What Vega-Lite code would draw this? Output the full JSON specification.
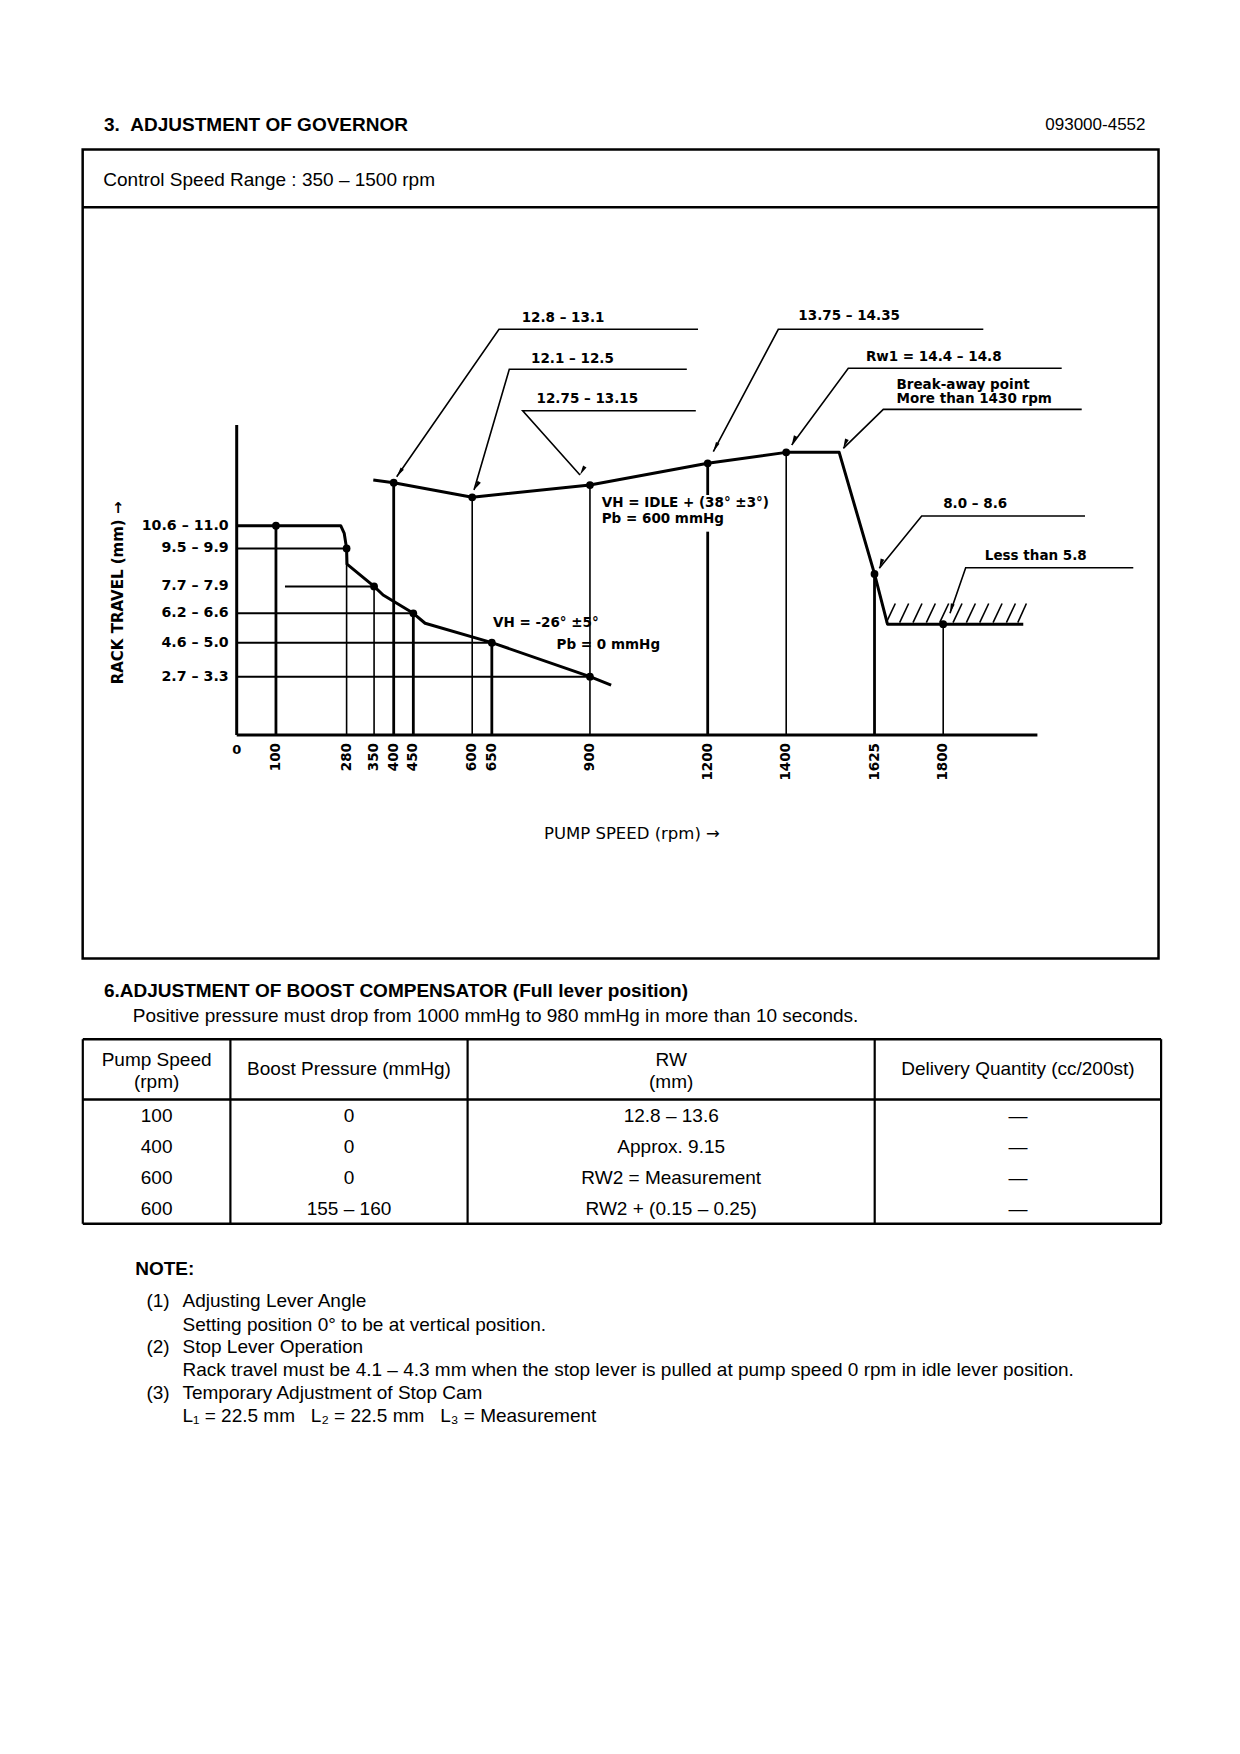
{
  "$schema": "https://vega.github.io/schema/vega-lite/v6.json",
  "width": 1240,
  "height": 1754,
  "autosize": {"type": "fit", "contains": "padding"},
  "padding": 0,
  "background": "#ffffff",
  "config": {"view": {"stroke": null}},
  "datasets": {
    "docBox": [{"x": 14.0, "x2": 196.2, "y": 25.3, "y2": 162.3}],
    "docRules": [{"x": 14.0, "x2": 196.2, "y": 35.1}],
    "docBold": [
      {"x": 17.6, "y": 21.1, "text": "3.\u00a0\u00a0ADJUSTMENT OF GOVERNOR"},
      {"x": 17.6, "y": 167.8, "text": "6.ADJUSTMENT OF BOOST COMPENSATOR (Full lever position)"},
      {"x": 22.9, "y": 214.8, "text": "NOTE:"}
    ],
    "docText": [
      {"x": 17.5, "y": 30.4, "text": "Control Speed Range : 350 – 1500 rpm"},
      {"x": 22.5, "y": 172.0, "text": "Positive pressure must drop from 1000 mmHg to 980 mmHg in more than 10 seconds."},
      {"x": 24.8, "y": 220.3, "text": "(1)"},
      {"x": 30.9, "y": 220.3, "text": "Adjusting Lever Angle"},
      {"x": 30.9, "y": 224.3, "text": "Setting position 0° to be at vertical position."},
      {"x": 24.8, "y": 228.1, "text": "(2)"},
      {"x": 30.9, "y": 228.1, "text": "Stop Lever Operation"},
      {"x": 30.9, "y": 232.0, "text": "Rack travel must be 4.1 – 4.3 mm when the stop lever is pulled at pump speed 0 rpm in idle lever position."},
      {"x": 24.8, "y": 235.8, "text": "(3)"},
      {"x": 30.9, "y": 235.8, "text": "Temporary Adjustment of Stop Cam"},
      {"x": 30.9, "y": 239.8, "text": "L₁ = 22.5 mm\u00a0\u00a0\u00a0L₂ = 22.5 mm\u00a0\u00a0\u00a0L₃ = Measurement"}
    ],
    "docRight": [{"x": 194.0, "y": 21.1, "text": "093000-4552"}],
    "tableHeadOne": [
      {"c": 2, "r": 0, "text": "Boost Pressure (mmHg)"},
      {"c": 4, "r": 0, "text": "Delivery Quantity (cc/200st)"}
    ],
    "tableHeadTwo": [
      {"c": 1, "r": 0, "text": "Pump Speed\n(rpm)"},
      {"c": 3, "r": 0, "text": "RW\n(mm)"}
    ],
    "tableCells": [
      {"c": 1, "r": 1, "text": "100"},
      {"c": 2, "r": 1, "text": "0"},
      {"c": 3, "r": 1, "text": "12.8 – 13.6"},
      {"c": 4, "r": 1, "text": "—"},
      {"c": 1, "r": 2, "text": "400"},
      {"c": 2, "r": 2, "text": "0"},
      {"c": 3, "r": 2, "text": "Approx. 9.15"},
      {"c": 4, "r": 2, "text": "—"},
      {"c": 1, "r": 3, "text": "600"},
      {"c": 2, "r": 3, "text": "0"},
      {"c": 3, "r": 3, "text": "RW2 = Measurement"},
      {"c": 4, "r": 3, "text": "—"},
      {"c": 1, "r": 4, "text": "600"},
      {"c": 2, "r": 4, "text": "155 – 160"},
      {"c": 3, "r": 4, "text": "RW2 + (0.15 – 0.25)"},
      {"c": 4, "r": 4, "text": "—"}
    ],
    "tableHLines": [
      {"c": 0.5, "c2": 4.5, "r": -0.5},
      {"c": 0.5, "c2": 4.5, "r": 0.5},
      {"c": 0.5, "c2": 4.5, "r": 4.5}
    ],
    "tableVLines": [
      {"c": 0.5, "r": -0.5, "r2": 4.5},
      {"c": 1.5, "r": -0.5, "r2": 4.5},
      {"c": 2.5, "r": -0.5, "r2": 4.5},
      {"c": 3.5, "r": -0.5, "r2": 4.5},
      {"c": 4.5, "r": -0.5, "r2": 4.5}
    ],
    "chartAxes": [
      {"rpm": 0, "mm": 0, "rpm2": 0, "mm2": 16.15},
      {"rpm": 0, "mm": 0, "rpm2": 2040, "mm2": 0}
    ],
    "hRefs": [
      {"rpm": 0, "rpm2": 280, "mm": 9.72},
      {"rpm": 123, "rpm2": 350, "mm": 7.74},
      {"rpm": 0, "rpm2": 450, "mm": 6.34},
      {"rpm": 0, "rpm2": 650, "mm": 4.81},
      {"rpm": 0, "rpm2": 900, "mm": 3.04}
    ],
    "vRefsHeavy": [
      {"rpm": 100, "lo": 0, "hi": 10.9},
      {"rpm": 400, "lo": 0, "hi": 13.14},
      {"rpm": 450, "lo": 0, "hi": 6.34},
      {"rpm": 650, "lo": 0, "hi": 4.81},
      {"rpm": 1200, "lo": 0, "hi": 10.59},
      {"rpm": 1200, "lo": 12.5, "hi": 14.15},
      {"rpm": 1625, "lo": 0, "hi": 8.39}
    ],
    "vRefsLight": [
      {"rpm": 280, "lo": 0, "hi": 9.72},
      {"rpm": 350, "lo": 0, "hi": 7.74},
      {"rpm": 600, "lo": 0, "hi": 12.38},
      {"rpm": 900, "lo": 0, "hi": 13.02},
      {"rpm": 1400, "lo": 0, "hi": 14.72},
      {"rpm": 1800, "lo": 0, "hi": 5.77}
    ],
    "hatch": [
      {"rpm": 1655, "mm": 5.85, "rpm2": 1678, "mm2": 6.85},
      {"rpm": 1689, "mm": 5.85, "rpm2": 1712, "mm2": 6.85},
      {"rpm": 1723, "mm": 5.85, "rpm2": 1746, "mm2": 6.85},
      {"rpm": 1757, "mm": 5.85, "rpm2": 1780, "mm2": 6.85},
      {"rpm": 1791, "mm": 5.85, "rpm2": 1814, "mm2": 6.85},
      {"rpm": 1825, "mm": 5.85, "rpm2": 1848, "mm2": 6.85},
      {"rpm": 1859, "mm": 5.85, "rpm2": 1882, "mm2": 6.85},
      {"rpm": 1893, "mm": 5.85, "rpm2": 1916, "mm2": 6.85},
      {"rpm": 1927, "mm": 5.85, "rpm2": 1950, "mm2": 6.85},
      {"rpm": 1961, "mm": 5.85, "rpm2": 1984, "mm2": 6.85},
      {"rpm": 1990, "mm": 5.85, "rpm2": 2012, "mm2": 6.85}
    ],
    "curves": [
      {"curve": "Pb 0", "i": 1, "rpm": 0, "mm": 10.9},
      {"curve": "Pb 0", "i": 2, "rpm": 265, "mm": 10.9},
      {"curve": "Pb 0", "i": 3, "rpm": 274, "mm": 10.5},
      {"curve": "Pb 0", "i": 4, "rpm": 280, "mm": 9.72},
      {"curve": "Pb 0", "i": 5, "rpm": 281, "mm": 8.9},
      {"curve": "Pb 0", "i": 6, "rpm": 350, "mm": 7.74},
      {"curve": "Pb 0", "i": 7, "rpm": 373, "mm": 7.29},
      {"curve": "Pb 0", "i": 8, "rpm": 450, "mm": 6.34},
      {"curve": "Pb 0", "i": 9, "rpm": 480, "mm": 5.82},
      {"curve": "Pb 0", "i": 10, "rpm": 650, "mm": 4.81},
      {"curve": "Pb 0", "i": 11, "rpm": 900, "mm": 3.04},
      {"curve": "Pb 0", "i": 12, "rpm": 954, "mm": 2.6},
      {"curve": "Pb 600", "i": 1, "rpm": 348, "mm": 13.28},
      {"curve": "Pb 600", "i": 2, "rpm": 400, "mm": 13.14},
      {"curve": "Pb 600", "i": 3, "rpm": 600, "mm": 12.38},
      {"curve": "Pb 600", "i": 4, "rpm": 900, "mm": 13.02},
      {"curve": "Pb 600", "i": 5, "rpm": 1200, "mm": 14.15},
      {"curve": "Pb 600", "i": 6, "rpm": 1400, "mm": 14.72},
      {"curve": "Pb 600", "i": 7, "rpm": 1535, "mm": 14.72},
      {"curve": "Pb 600", "i": 8, "rpm": 1625, "mm": 8.39},
      {"curve": "Pb 600", "i": 9, "rpm": 1658, "mm": 5.77},
      {"curve": "Pb 600", "i": 10, "rpm": 2004, "mm": 5.77}
    ],
    "points": [
      {"rpm": 100, "mm": 10.9}, {"rpm": 280, "mm": 9.72}, {"rpm": 350, "mm": 7.74},
      {"rpm": 450, "mm": 6.34}, {"rpm": 650, "mm": 4.81}, {"rpm": 900, "mm": 3.04},
      {"rpm": 400, "mm": 13.14}, {"rpm": 600, "mm": 12.38}, {"rpm": 900, "mm": 13.02},
      {"rpm": 1200, "mm": 14.15}, {"rpm": 1400, "mm": 14.72}, {"rpm": 1625, "mm": 8.39},
      {"rpm": 1800, "mm": 5.77}
    ],
    "leaders": [
      {"id": 1, "i": 1, "rpm": 1175.3, "mm": 21.13}, {"id": 1, "i": 2, "rpm": 668.3, "mm": 21.13}, {"id": 1, "i": 3, "rpm": 407.6, "mm": 13.45},
      {"id": 2, "i": 1, "rpm": 1146.8, "mm": 19.05}, {"id": 2, "i": 2, "rpm": 694.5, "mm": 19.05}, {"id": 2, "i": 3, "rpm": 604.6, "mm": 12.76},
      {"id": 3, "i": 1, "rpm": 1169.7, "mm": 16.89}, {"id": 3, "i": 2, "rpm": 728.7, "mm": 16.89}, {"id": 3, "i": 3, "rpm": 874.6, "mm": 13.54},
      {"id": 4, "i": 1, "rpm": 1902.2, "mm": 21.13}, {"id": 4, "i": 2, "rpm": 1379.9, "mm": 21.13}, {"id": 4, "i": 3, "rpm": 1214.3, "mm": 14.76},
      {"id": 5, "i": 1, "rpm": 2101.9, "mm": 19.1}, {"id": 5, "i": 2, "rpm": 1558.2, "mm": 19.1}, {"id": 5, "i": 3, "rpm": 1414, "mm": 15.1},
      {"id": 6, "i": 1, "rpm": 2152.9, "mm": 16.96}, {"id": 6, "i": 2, "rpm": 1647.4, "mm": 16.96}, {"id": 6, "i": 3, "rpm": 1545.5, "mm": 14.93},
      {"id": 7, "i": 1, "rpm": 2161.3, "mm": 11.41}, {"id": 7, "i": 2, "rpm": 1745.2, "mm": 11.41}, {"id": 7, "i": 3, "rpm": 1637.2, "mm": 8.68},
      {"id": 8, "i": 1, "rpm": 2284.3, "mm": 8.71}, {"id": 8, "i": 2, "rpm": 1857.3, "mm": 8.71}, {"id": 8, "i": 3, "rpm": 1817.3, "mm": 6.34}
    ],
    "arrowTips": [
      {"id": 1, "rpm": 407.6, "mm": 13.45},
      {"id": 2, "rpm": 604.6, "mm": 12.76},
      {"id": 3, "rpm": 874.6, "mm": 13.54},
      {"id": 4, "rpm": 1214.3, "mm": 14.76},
      {"id": 5, "rpm": 1414, "mm": 15.1},
      {"id": 6, "rpm": 1545.5, "mm": 14.93},
      {"id": 7, "rpm": 1637.2, "mm": 8.68},
      {"id": 8, "rpm": 1817.3, "mm": 6.34}
    ],
    "chartLabels": [
      {"rpm": 726, "mm": 21.7, "label": "12.8 – 13.1"},
      {"rpm": 750, "mm": 19.58, "label": "12.1 – 12.5"},
      {"rpm": 764, "mm": 17.48, "label": "12.75 – 13.15"},
      {"rpm": 1431, "mm": 21.82, "label": "13.75 – 14.35"},
      {"rpm": 1603, "mm": 19.67, "label": "Rw1 = 14.4 – 14.8"},
      {"rpm": 1681, "mm": 18.25, "label": "Break-away point"},
      {"rpm": 1681, "mm": 17.5, "label": "More than 1430 rpm"},
      {"rpm": 1800, "mm": 12.02, "label": "8.0 – 8.6"},
      {"rpm": 1906, "mm": 9.32, "label": "Less than 5.8"},
      {"rpm": 930, "mm": 12.07, "label": "VH = IDLE + (38° ±3°)"},
      {"rpm": 930, "mm": 11.23, "label": "Pb = 600 mmHg"},
      {"rpm": 653, "mm": 5.82, "label": "VH = -26° ±5°"},
      {"rpm": 815, "mm": 4.69, "label": "Pb = 0 mmHg"}
    ],
    "yLabels": [
      {"mm": 10.9, "label": "10.6 – 11.0"},
      {"mm": 9.72, "label": "9.5 – 9.9"},
      {"mm": 7.74, "label": "7.7 – 7.9"},
      {"mm": 6.34, "label": "6.2 – 6.6"},
      {"mm": 4.81, "label": "4.6 – 5.0"},
      {"mm": 3.04, "label": "2.7 – 3.3"}
    ],
    "xLabels": [
      {"rpm": 100, "label": "100"}, {"rpm": 280, "label": "280"}, {"rpm": 350, "label": "350"},
      {"rpm": 400, "label": "400"}, {"rpm": 450, "label": "450"}, {"rpm": 600, "label": "600"},
      {"rpm": 650, "label": "650"}, {"rpm": 900, "label": "900"}, {"rpm": 1200, "label": "1200"},
      {"rpm": 1400, "label": "1400"}, {"rpm": 1625, "label": "1625"}, {"rpm": 1800, "label": "1800"}
    ],
    "yTitle": [{"rpm": -301.7, "mm": 7.4, "label": "RACK TRAVEL (mm) →"}],
    "xTitle": [{"rpm": 1007, "mm": -5.18, "label": "PUMP SPEED (rpm) →"}]
  },
  "resolve": {"scale": {"x": "independent", "y": "independent", "angle": "independent"}},
  "layer": [
    {
      "layer": [
        {
          "data": {"name": "docBox"},
          "mark": {"type": "rect", "filled": false, "stroke": "#000", "strokeWidth": 2.5},
          "encoding": {
            "x": {"field": "x", "type": "quantitative", "scale": {"domain": [0, 210], "nice": false, "zero": false}, "axis": null},
            "x2": {"field": "x2"},
            "y": {"field": "y", "type": "quantitative", "scale": {"domain": [0, 297], "reverse": true, "nice": false, "zero": false}, "axis": null},
            "y2": {"field": "y2"}
          }
        },
        {
          "data": {"name": "docRules"},
          "mark": {"type": "rule", "color": "#000", "strokeWidth": 2.5},
          "encoding": {
            "x": {"field": "x", "type": "quantitative", "scale": {"domain": [0, 210], "nice": false, "zero": false}, "axis": null},
            "x2": {"field": "x2"},
            "y": {"field": "y", "type": "quantitative", "scale": {"domain": [0, 297], "reverse": true, "nice": false, "zero": false}, "axis": null}
          }
        },
        {
          "data": {"name": "docBold"},
          "mark": {"type": "text", "align": "left", "baseline": "middle", "font": "Liberation Sans", "fontSize": 19, "fontWeight": "bold", "color": "#000"},
          "encoding": {
            "x": {"field": "x", "type": "quantitative", "scale": {"domain": [0, 210], "nice": false, "zero": false}, "axis": null},
            "y": {"field": "y", "type": "quantitative", "scale": {"domain": [0, 297], "reverse": true, "nice": false, "zero": false}, "axis": null},
            "text": {"field": "text"}
          }
        },
        {
          "data": {"name": "docText"},
          "mark": {"type": "text", "align": "left", "baseline": "middle", "font": "Liberation Sans", "fontSize": 19, "color": "#000"},
          "encoding": {
            "x": {"field": "x", "type": "quantitative", "scale": {"domain": [0, 210], "nice": false, "zero": false}, "axis": null},
            "y": {"field": "y", "type": "quantitative", "scale": {"domain": [0, 297], "reverse": true, "nice": false, "zero": false}, "axis": null},
            "text": {"field": "text"}
          }
        },
        {
          "data": {"name": "docRight"},
          "mark": {"type": "text", "align": "right", "baseline": "middle", "font": "Liberation Sans", "fontSize": 17, "color": "#000"},
          "encoding": {
            "x": {"field": "x", "type": "quantitative", "scale": {"domain": [0, 210], "nice": false, "zero": false}, "axis": null},
            "y": {"field": "y", "type": "quantitative", "scale": {"domain": [0, 297], "reverse": true, "nice": false, "zero": false}, "axis": null},
            "text": {"field": "text"}
          }
        }
      ]
    },
    {
      "layer": [
        {
          "data": {"name": "tableHLines"},
          "mark": {"type": "rule", "color": "#000", "strokeWidth": 2.5},
          "encoding": {
            "x": {"field": "c", "type": "quantitative", "scale": {"domain": [0.5, 1, 1.5, 2, 2.5, 3, 3.5, 4, 4.5], "range": [82.8, 156.6, 230.4, 349, 467.6, 671.2, 874.7, 1017.9, 1161.1], "nice": false, "zero": false}, "axis": null},
            "x2": {"field": "c2"},
            "y": {"field": "r", "type": "quantitative", "scale": {"domain": [-0.5, 0, 0.5, 1, 4, 4.5], "range": [1039.2, 1069.4, 1099.6, 1116.4, 1209.2, 1223.8], "nice": false, "zero": false}, "axis": null}
          }
        },
        {
          "data": {"name": "tableVLines"},
          "mark": {"type": "rule", "color": "#000", "strokeWidth": 2.2},
          "encoding": {
            "x": {"field": "c", "type": "quantitative", "scale": {"domain": [0.5, 1, 1.5, 2, 2.5, 3, 3.5, 4, 4.5], "range": [82.8, 156.6, 230.4, 349, 467.6, 671.2, 874.7, 1017.9, 1161.1], "nice": false, "zero": false}, "axis": null},
            "y": {"field": "r", "type": "quantitative", "scale": {"domain": [-0.5, 0, 0.5, 1, 4, 4.5], "range": [1039.2, 1069.4, 1099.6, 1116.4, 1209.2, 1223.8], "nice": false, "zero": false}, "axis": null},
            "y2": {"field": "r2"}
          }
        },
        {
          "data": {"name": "tableHeadOne"},
          "mark": {"type": "text", "align": "center", "baseline": "middle", "font": "Liberation Sans", "fontSize": 19, "color": "#000"},
          "encoding": {
            "x": {"field": "c", "type": "quantitative", "scale": {"domain": [0.5, 1, 1.5, 2, 2.5, 3, 3.5, 4, 4.5], "range": [82.8, 156.6, 230.4, 349, 467.6, 671.2, 874.7, 1017.9, 1161.1], "nice": false, "zero": false}, "axis": null},
            "y": {"field": "r", "type": "quantitative", "scale": {"domain": [-0.5, 0, 0.5, 1, 4, 4.5], "range": [1039.2, 1069.4, 1099.6, 1116.4, 1209.2, 1223.8], "nice": false, "zero": false}, "axis": null},
            "text": {"field": "text"}
          }
        },
        {
          "data": {"name": "tableHeadTwo"},
          "mark": {"type": "text", "align": "center", "baseline": "middle", "dy": -9.5, "font": "Liberation Sans", "fontSize": 19, "lineBreak": "\n", "lineHeight": 22.4, "color": "#000"},
          "encoding": {
            "x": {"field": "c", "type": "quantitative", "scale": {"domain": [0.5, 1, 1.5, 2, 2.5, 3, 3.5, 4, 4.5], "range": [82.8, 156.6, 230.4, 349, 467.6, 671.2, 874.7, 1017.9, 1161.1], "nice": false, "zero": false}, "axis": null},
            "y": {"field": "r", "type": "quantitative", "scale": {"domain": [-0.5, 0, 0.5, 1, 4, 4.5], "range": [1039.2, 1069.4, 1099.6, 1116.4, 1209.2, 1223.8], "nice": false, "zero": false}, "axis": null},
            "text": {"field": "text"}
          }
        },
        {
          "data": {"name": "tableCells"},
          "mark": {"type": "text", "align": "center", "baseline": "middle", "font": "Liberation Sans", "fontSize": 19, "color": "#000"},
          "encoding": {
            "x": {"field": "c", "type": "quantitative", "scale": {"domain": [0.5, 1, 1.5, 2, 2.5, 3, 3.5, 4, 4.5], "range": [82.8, 156.6, 230.4, 349, 467.6, 671.2, 874.7, 1017.9, 1161.1], "nice": false, "zero": false}, "axis": null},
            "y": {"field": "r", "type": "quantitative", "scale": {"domain": [-0.5, 0, 0.5, 1, 4, 4.5], "range": [1039.2, 1069.4, 1099.6, 1116.4, 1209.2, 1223.8], "nice": false, "zero": false}, "axis": null},
            "text": {"field": "text"}
          }
        }
      ]
    },
    {
      "layer": [
        {
          "data": {"name": "chartAxes"},
          "mark": {"type": "rule", "color": "#000", "strokeWidth": 3},
          "encoding": {
            "x": {"field": "rpm", "type": "quantitative", "scale": {"domain": [-603.06, 2556.18], "nice": false, "zero": false}, "axis": null},
            "x2": {"field": "rpm2"},
            "y": {"field": "mm", "type": "quantitative", "scale": {"domain": [-53.07, 38.28], "nice": false, "zero": false}, "axis": null},
            "y2": {"field": "mm2"}
          }
        },
        {
          "data": {"name": "hRefs"},
          "mark": {"type": "rule", "color": "#000", "strokeWidth": 2},
          "encoding": {
            "x": {"field": "rpm", "type": "quantitative", "scale": {"domain": [-603.06, 2556.18], "nice": false, "zero": false}, "axis": null},
            "x2": {"field": "rpm2"},
            "y": {"field": "mm", "type": "quantitative", "scale": {"domain": [-53.07, 38.28], "nice": false, "zero": false}, "axis": null}
          }
        },
        {
          "data": {"name": "vRefsHeavy"},
          "mark": {"type": "rule", "color": "#000", "strokeWidth": 2.8},
          "encoding": {
            "x": {"field": "rpm", "type": "quantitative", "scale": {"domain": [-603.06, 2556.18], "nice": false, "zero": false}, "axis": null},
            "y": {"field": "hi", "type": "quantitative", "scale": {"domain": [-53.07, 38.28], "nice": false, "zero": false}, "axis": null},
            "y2": {"field": "lo"}
          }
        },
        {
          "data": {"name": "vRefsLight"},
          "mark": {"type": "rule", "color": "#000", "strokeWidth": 1.6},
          "encoding": {
            "x": {"field": "rpm", "type": "quantitative", "scale": {"domain": [-603.06, 2556.18], "nice": false, "zero": false}, "axis": null},
            "y": {"field": "hi", "type": "quantitative", "scale": {"domain": [-53.07, 38.28], "nice": false, "zero": false}, "axis": null},
            "y2": {"field": "lo"}
          }
        },
        {
          "data": {"name": "hatch"},
          "mark": {"type": "rule", "color": "#000", "strokeWidth": 1.6},
          "encoding": {
            "x": {"field": "rpm", "type": "quantitative", "scale": {"domain": [-603.06, 2556.18], "nice": false, "zero": false}, "axis": null},
            "x2": {"field": "rpm2"},
            "y": {"field": "mm", "type": "quantitative", "scale": {"domain": [-53.07, 38.28], "nice": false, "zero": false}, "axis": null},
            "y2": {"field": "mm2"}
          }
        },
        {
          "data": {"name": "curves"},
          "mark": {"type": "line", "color": "#000", "strokeWidth": 3, "strokeJoin": "round"},
          "encoding": {
            "x": {"field": "rpm", "type": "quantitative", "scale": {"domain": [-603.06, 2556.18], "nice": false, "zero": false}, "axis": null},
            "y": {"field": "mm", "type": "quantitative", "scale": {"domain": [-53.07, 38.28], "nice": false, "zero": false}, "axis": null},
            "detail": {"field": "curve"},
            "order": {"field": "i"}
          }
        },
        {
          "data": {"name": "leaders"},
          "mark": {"type": "line", "color": "#000", "strokeWidth": 1.6},
          "encoding": {
            "x": {"field": "rpm", "type": "quantitative", "scale": {"domain": [-603.06, 2556.18], "nice": false, "zero": false}, "axis": null},
            "y": {"field": "mm", "type": "quantitative", "scale": {"domain": [-53.07, 38.28], "nice": false, "zero": false}, "axis": null},
            "detail": {"field": "id"},
            "order": {"field": "i"}
          }
        },
        {
          "data": {"name": "arrowTips"},
          "mark": {"type": "point", "shape": "M0,0L0.32,1.6L-0.32,1.6Z", "filled": true, "size": 150, "color": "#000", "opacity": 1},
          "encoding": {
            "x": {"field": "rpm", "type": "quantitative", "scale": {"domain": [-603.06, 2556.18], "nice": false, "zero": false}, "axis": null},
            "y": {"field": "mm", "type": "quantitative", "scale": {"domain": [-53.07, 38.28], "nice": false, "zero": false}, "axis": null},
            "angle": {"field": "id", "type": "nominal", "scale": {"domain": [1, 2, 3, 4, 5, 6, 7, 8], "range": [214.7, 196.3, 138.3, 208, 216.4, 225.7, 219, 199]}, "legend": null}
          }
        },
        {
          "data": {"name": "points"},
          "mark": {"type": "circle", "size": 60, "color": "#000", "opacity": 1},
          "encoding": {
            "x": {"field": "rpm", "type": "quantitative", "scale": {"domain": [-603.06, 2556.18], "nice": false, "zero": false}, "axis": null},
            "y": {"field": "mm", "type": "quantitative", "scale": {"domain": [-53.07, 38.28], "nice": false, "zero": false}, "axis": null}
          }
        },
        {
          "data": {"name": "chartLabels"},
          "mark": {"type": "text", "align": "left", "baseline": "middle", "font": "DejaVu Sans", "fontSize": 13.5, "fontWeight": "bold", "color": "#000"},
          "encoding": {
            "x": {"field": "rpm", "type": "quantitative", "scale": {"domain": [-603.06, 2556.18], "nice": false, "zero": false}, "axis": null},
            "y": {"field": "mm", "type": "quantitative", "scale": {"domain": [-53.07, 38.28], "nice": false, "zero": false}, "axis": null},
            "text": {"field": "label"}
          }
        },
        {
          "data": {"name": "yLabels"},
          "mark": {"type": "text", "align": "right", "baseline": "middle", "dx": -8, "font": "DejaVu Sans", "fontSize": 14.2, "fontWeight": "bold", "color": "#000"},
          "encoding": {
            "x": {"datum": 0, "type": "quantitative", "scale": {"domain": [-603.06, 2556.18], "nice": false, "zero": false}, "axis": null},
            "y": {"field": "mm", "type": "quantitative", "scale": {"domain": [-53.07, 38.28], "nice": false, "zero": false}, "axis": null},
            "text": {"field": "label"}
          }
        },
        {
          "data": {"name": "xLabels"},
          "mark": {"type": "text", "align": "right", "baseline": "middle", "angle": 270, "dx": -8, "font": "DejaVu Sans", "fontSize": 13.5, "fontWeight": "bold", "color": "#000"},
          "encoding": {
            "x": {"field": "rpm", "type": "quantitative", "scale": {"domain": [-603.06, 2556.18], "nice": false, "zero": false}, "axis": null},
            "y": {"datum": 0, "type": "quantitative", "scale": {"domain": [-53.07, 38.28], "nice": false, "zero": false}, "axis": null},
            "text": {"field": "label"}
          }
        },
        {
          "data": {"values": [{"rpm": 0, "mm": 0, "label": "0"}]},
          "mark": {"type": "text", "align": "center", "baseline": "middle", "dy": 15, "font": "DejaVu Sans", "fontSize": 13, "fontWeight": "bold", "color": "#000"},
          "encoding": {
            "x": {"field": "rpm", "type": "quantitative", "scale": {"domain": [-603.06, 2556.18], "nice": false, "zero": false}, "axis": null},
            "y": {"field": "mm", "type": "quantitative", "scale": {"domain": [-53.07, 38.28], "nice": false, "zero": false}, "axis": null},
            "text": {"field": "label"}
          }
        },
        {
          "data": {"name": "yTitle"},
          "mark": {"type": "text", "align": "center", "baseline": "middle", "angle": 270, "font": "DejaVu Sans", "fontSize": 15, "fontWeight": "bold", "color": "#000"},
          "encoding": {
            "x": {"field": "rpm", "type": "quantitative", "scale": {"domain": [-603.06, 2556.18], "nice": false, "zero": false}, "axis": null},
            "y": {"field": "mm", "type": "quantitative", "scale": {"domain": [-53.07, 38.28], "nice": false, "zero": false}, "axis": null},
            "text": {"field": "label"}
          }
        },
        {
          "data": {"name": "xTitle"},
          "mark": {"type": "text", "align": "center", "baseline": "middle", "font": "DejaVu Sans", "fontSize": 16.5, "color": "#000"},
          "encoding": {
            "x": {"field": "rpm", "type": "quantitative", "scale": {"domain": [-603.06, 2556.18], "nice": false, "zero": false}, "axis": null},
            "y": {"field": "mm", "type": "quantitative", "scale": {"domain": [-53.07, 38.28], "nice": false, "zero": false}, "axis": null},
            "text": {"field": "label"}
          }
        }
      ]
    }
  ]
}
